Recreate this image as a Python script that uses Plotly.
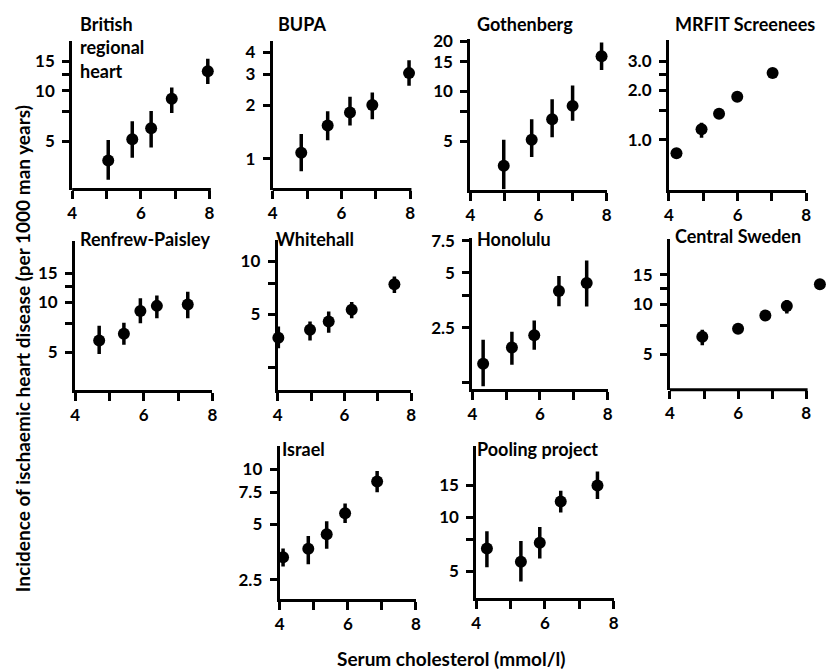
import numpy as np
import plotly.graph_objects as go

W, H = 832, 670

# ---------------- data ----------------
panel_titles = ["British<br>regional<br>heart", "BUPA", "Gothenberg", "MRFIT Screenees",
                "Renfrew-Paisley", "Whitehall", "Honolulu", "Central Sweden",
                "Israel", "Pooling project"]

british_x = [5.05, 5.75, 6.3, 6.9, 7.95]
british_y = [3.85, 5.15, 6.0, 9.0, 13.1]
british_hi = [5.1, 6.6, 7.6, 10.5, 15.6]
british_lo = [2.95, 4.0, 4.6, 7.4, 11.0]

bupa_x = [4.83, 5.6, 6.25, 6.9, 7.97]
bupa_y = [1.08, 1.54, 1.82, 2.01, 3.04]
bupa_hi = [1.38, 1.85, 2.24, 2.36, 3.59]
bupa_lo = [0.85, 1.27, 1.54, 1.67, 2.58]

goth_x = [4.98, 5.8, 6.4, 7.0, 7.85]
goth_y = [3.55, 5.08, 6.77, 8.14, 16.2]
goth_hi = [5.08, 6.77, 8.92, 10.8, 19.6]
goth_lo = [2.56, 4.0, 5.27, 6.63, 13.4]

mrfit_x = [4.22, 4.95, 5.46, 5.99, 7.02]
mrfit_y = [0.83, 1.16, 1.44, 1.83, 2.55]
mrfit_hi = [0.89, 1.27, 1.5, 1.9, 2.64]
mrfit_lo = [0.78, 1.03, 1.39, 1.77, 2.47]

renf_x = [4.7, 5.42, 5.9, 6.38, 7.28]
renf_y = [5.91, 6.48, 8.88, 9.54, 9.73]
renf_hi = [7.23, 7.56, 10.6, 11.0, 11.6]
renf_lo = [4.9, 5.57, 7.5, 8.03, 8.03]

white_x = [4.02, 4.97, 5.53, 6.22, 7.5]
white_y = [3.67, 4.08, 4.54, 5.29, 7.4]
white_hi = [4.25, 4.54, 5.17, 5.86, 8.17]
white_lo = [3.2, 3.54, 3.92, 4.74, 6.6]

hono_x = [4.32, 5.17, 5.83, 6.56, 7.38]
hono_y = [1.59, 1.95, 2.28, 3.97, 4.4]
hono_hi = [2.15, 2.38, 2.74, 4.8, 5.84]
hono_lo = [1.2, 1.57, 1.9, 3.28, 3.27]

csw_x = [4.95, 6.0, 6.8, 7.43, 8.4]
csw_y = [6.37, 7.13, 8.55, 9.77, 13.2]
csw_hi = [7.03, 7.5, 8.95, 10.6, 13.8]
csw_lo = [5.66, 6.75, 8.15, 8.8, 12.6]

isr_x = [4.1, 4.84, 5.38, 5.92, 6.86]
isr_y = [3.31, 3.69, 4.42, 5.76, 8.57]
isr_hi = [3.7, 4.32, 5.2, 6.5, 9.8]
isr_lo = [2.95, 3.03, 3.69, 5.1, 7.5]

pool_x = [4.31, 5.3, 5.85, 6.46, 7.53]
pool_y = [6.7, 5.66, 7.2, 12.2, 15.0]
pool_hi = [8.35, 7.38, 8.81, 14.0, 17.9]
pool_lo = [5.27, 4.39, 5.9, 10.6, 12.6]

series = [
    (british_x, british_y, british_hi, british_lo),
    (bupa_x, bupa_y, bupa_hi, bupa_lo),
    (goth_x, goth_y, goth_hi, goth_lo),
    (mrfit_x, mrfit_y, mrfit_hi, mrfit_lo),
    (renf_x, renf_y, renf_hi, renf_lo),
    (white_x, white_y, white_hi, white_lo),
    (hono_x, hono_y, hono_hi, hono_lo),
    (csw_x, csw_y, csw_hi, csw_lo),
    (isr_x, isr_y, isr_hi, isr_lo),
    (pool_x, pool_y, pool_hi, pool_lo),
]

x_axis_min, x_axis_max = 4, 8
x_tickvals = [4, 5, 6, 7, 8]
x_ticktext = ["4", "", "6", "", "8"]

y_ticks = [
    ([5, 7.5, 10, 12.5, 15], ["5", "", "10", "", "15"]),
    ([1, 2, 3, 4], ["1", "2", "3", "4"]),
    ([5, 7.5, 10, 15, 20], ["5", "", "10", "15", "20"]),
    ([1.0, 1.5, 2.0, 2.5, 3.0], ["1.0", "", "2.0", "", "3.0"]),
    ([5, 7.5, 10, 12.5, 15], ["5", "", "10", "", "15"]),
    ([2.5, 5, 7.5, 10], ["", "5", "", "10"]),
    ([1.25, 2.5, 3.75, 5, 7.5], ["", "2.5", "", "5", "7.5"]),
    ([5, 7.5, 10, 12.5, 15], ["5", "", "10", "", "15"]),
    ([2.5, 5, 7.5, 10], ["2.5", "5", "7.5", "10"]),
    ([5, 7.5, 10, 15], ["5", "", "10", "15"]),
]

y_ranges = [
    (2.58, 20.0), (0.67, 4.64), (2.55, 20.7), (0.5, 4.06), (2.98, 23.5),
    (1.86, 13.2), (1.16, 7.76), (3.06, 24.7), (1.96, 13.4), (3.56, 24.8),
]

# ---------------- layout geometry (pixels) ----------------
# (left, right, top, bottom) of each plot box (x from 4 to 8)
boxes = [
    (68, 207, 32, 183), (271, 410, 32, 183), (471, 609, 30, 183), (672, 811, 31, 183),
    (71, 210, 235, 386), (276, 411, 234, 386), (473, 610, 232, 385), (673, 811, 233, 386),
    (278, 416, 443, 598), (477, 616, 443, 597),
]
title_pos = [(74, 2), (274, 2), (476, 2), (676, 2),
             (74, 220), (272, 220), (476, 220), (676, 217),
             (278, 433), (476, 433)]

FONT = "Lato"
fig = go.Figure()
layout = dict(width=W, height=H, margin=dict(l=0, r=0, t=0, b=0),
              paper_bgcolor="white", plot_bgcolor="white", showlegend=False,
              font=dict(family=FONT, size=17, color="black", weight="bold"))

annotations = []
shapes = []
for i, ((xs, ys, hi, lo), (l, r, t, b)) in enumerate(zip(series, boxes)):
    n = i + 1
    xa = "xaxis" if n == 1 else f"xaxis{n}"
    ya = "yaxis" if n == 1 else f"yaxis{n}"
    xref = "x" if n == 1 else f"x{n}"
    yref = "y" if n == 1 else f"y{n}"
    ys_a = np.array(ys); hi_a = np.array(hi); lo_a = np.array(lo)

    # widen the scale (same px per unit) if a point lies beyond 8
    x_hi = max(x_axis_max, round(max(xs) + 0.2, 1))
    pxu = (r - l) / (x_axis_max - x_axis_min)
    r_ext = l + (x_hi - x_axis_min) * pxu
    extended = x_hi > x_axis_max

    fig.add_trace(go.Scatter(
        x=xs, y=ys, mode="markers", xaxis=xref, yaxis=yref, cliponaxis=False,
        marker=dict(size=12, color="black"),
        error_y=dict(type="data", symmetric=False, array=hi_a - ys_a,
                     arrayminus=ys_a - lo_a, thickness=3.5, width=0, color="black"),
    ))
    layout[xa] = dict(domain=[l / W, r_ext / W], range=[x_axis_min, x_hi], anchor=yref,
                      showline=not extended, linewidth=3, linecolor="black",
                      ticks="outside", ticklen=8, tickwidth=3, tickcolor="black",
                      tickmode="array", tickvals=x_tickvals, ticktext=x_ticktext,
                      showgrid=False, zeroline=False, fixedrange=True,
                      tickfont=dict(size=17))
    if extended:
        shapes.append(dict(type="line", xref=xref, yref=f"{yref} domain",
                           x0=x_axis_min - 0.04, x1=x_axis_max + 0.04, y0=0, y1=0,
                           line=dict(color="black", width=3), layer="above"))
    tv, tt = y_ticks[i]
    y0, y1 = y_ranges[i]
    layout[ya] = dict(domain=[1 - b / H, 1 - t / H], type="log",
                      range=[np.log10(y0), np.log10(y1)], anchor=xref,
                      showline=True, linewidth=3, linecolor="black",
                      ticks="outside", ticklen=7, tickwidth=3, tickcolor="black",
                      tickmode="array", tickvals=tv, ticktext=tt,
                      ticklabelstandoff=4,
                      showgrid=False, zeroline=False, fixedrange=True,
                      tickfont=dict(size=17))
    tx, ty = title_pos[i]
    annotations.append(dict(text=panel_titles[i], x=tx / W, y=1 - ty / H,
                            xref="paper", yref="paper", xanchor="left", yanchor="top",
                            align="left", showarrow=False,
                            font=dict(size=18, family=FONT, weight="bold")))

annotations.append(dict(text="Incidence of ischaemic heart disease (per 1000 man years)",
                        x=18 / W, y=1 - 344 / H, xref="paper", yref="paper",
                        textangle=-90, showarrow=False, xanchor="center", yanchor="middle",
                        font=dict(size=19, family=FONT, weight="bold")))
annotations.append(dict(text="Serum cholesterol (mmol/l)",
                        x=334 / W, y=1 - 658 / H, xref="paper", yref="paper",
                        showarrow=False, xanchor="left", yanchor="middle",
                        font=dict(size=19, family=FONT, weight="bold")))
layout["annotations"] = annotations
layout["shapes"] = shapes
fig.update_layout(**layout)
fig.write_html("out.html", config={"displayModeBar": False},
               post_script="document.body.style.margin='0';")
